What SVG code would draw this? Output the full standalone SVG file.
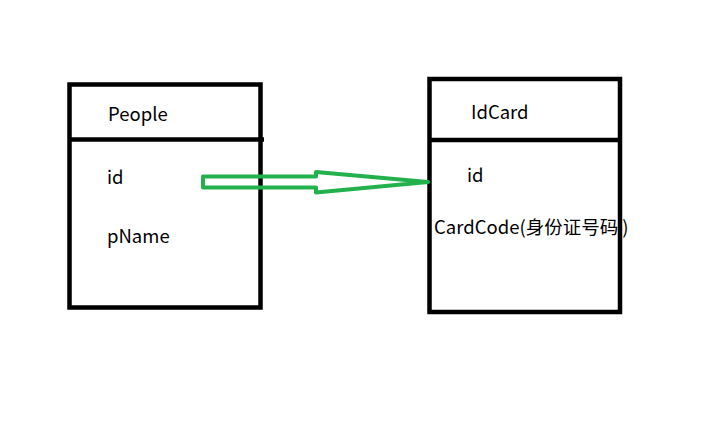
<svg xmlns="http://www.w3.org/2000/svg" width="708" height="422" viewBox="0 0 708 422">
<style>
.box{fill:none;stroke:#000;stroke-width:4.5}
.t{font-family:"Noto Sans CJK SC","Noto Sans",sans-serif;font-size:18.5px;fill:#000}
.arrow{fill:none;stroke:#22b14c;stroke-width:4;stroke-linejoin:round}
</style>
<rect width="708" height="422" fill="#fff"/>
<g id="people">
<rect class="box" x="69.5" y="84.5" width="191" height="223"/>
<line class="box" x1="69.5" y1="139.5" x2="264" y2="139.5"/>
<text class="t" x="108" y="121">People</text>
<text class="t" x="107" y="184">id</text>
<text class="t" x="107" y="243">pName</text>
</g>
<g id="idcard">
<rect class="box" x="429.5" y="79" width="190.5" height="233"/>
<line class="box" x1="429.5" y1="140" x2="620" y2="140"/>
<text class="t" x="471" y="119">IdCard</text>
<text class="t" x="467" y="182">id</text>
<text class="t" x="434" y="234">CardCode(身份证号码 )</text>
</g>
<g id="connectors">
<path class="arrow" d="M203,176.5 L316,176.5 L316,172 L428,182 L316,192.5 L316,187.5 L203,187.5 Z"/>
</g>
</svg>
